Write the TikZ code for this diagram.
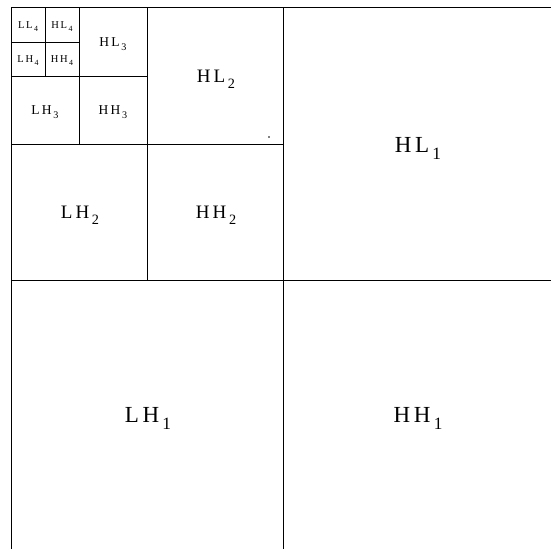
\documentclass[tikz,border=0pt]{standalone}
\usepackage{fontspec}
\setmainfont{Liberation Serif}
\newcommand\lbl[3]{#1\kern0.16em#2\kern0.14em\raisebox{-0.34em}{\scalebox{0.75}{#3}}}
\begin{document}
\begin{tikzpicture}[x=1pt,y=-1pt,
  grid/.style={draw=black,line width=0.75pt},
  lvA/.style={anchor=base,inner sep=0pt,font=\fontsize{23}{23}\selectfont},
  lvB/.style={anchor=base,inner sep=0pt,font=\fontsize{19}{19}\selectfont},
  lvC/.style={anchor=base,inner sep=0pt,font=\fontsize{13.5}{13.5}\selectfont},
  lvD/.style={anchor=base,inner sep=0pt,font=\fontsize{10.5}{10.5}\selectfont}]
\useasboundingbox (0,0) rectangle (551,549);
% outer lines
\draw[grid] (11,549) -- (11,7) -- (551,7);
\draw[grid] (283,7) -- (283,549);
\draw[grid] (11,280) -- (551,280);
% level 2
\draw[grid] (147,7) -- (147,280);
\draw[grid] (11,144) -- (283,144);
% level 3
\draw[grid] (79,7) -- (79,144);
\draw[grid] (11,76) -- (147,76);
% level 4
\draw[grid] (45,7) -- (45,76);
\draw[grid] (11,42) -- (79,42);
% stray dot
\fill (269,137) circle (0.9);
% labels
\node[lvA] (hl1) at (418,152) {\lbl{H}{L}{1}};
\node[lvA] (lh1) at (148,422) {\lbl{L}{H}{1}};
\node[lvA] (hh1) at (418,422) {\lbl{H}{H}{1}};
\node[lvB] (hl2) at (216,82) {\lbl{H}{L}{2}};
\node[lvB] (lh2) at (80,218) {\lbl{L}{H}{2}};
\node[lvB] (hh2) at (216,218) {\lbl{H}{H}{2}};
\node[lvC] (hl3) at (113,46) {\lbl{H}{L}{3}};
\node[lvC] (lh3) at (45,114) {\lbl{L}{H}{3}};
\node[lvC] (hh3) at (113,114) {\lbl{H}{H}{3}};
\node[lvD] (ll4) at (28,28) {\lbl{L}{L}{4}};
\node[lvD] (hl4) at (62,28) {\lbl{H}{L}{4}};
\node[lvD] (lh4) at (28,62) {\lbl{L}{H}{4}};
\node[lvD] (hh4) at (62,62) {\lbl{H}{H}{4}};
\end{tikzpicture}
\end{document}
